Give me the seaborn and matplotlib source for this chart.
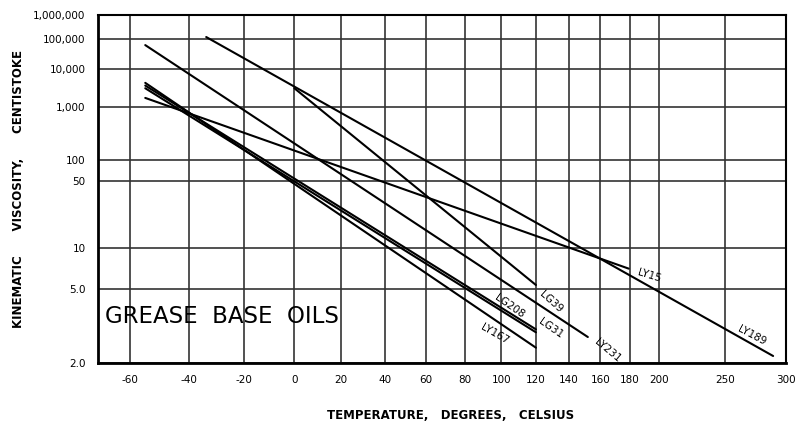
import numpy as np
import pandas as pd
import matplotlib
matplotlib.use("Agg")
import matplotlib.pyplot as plt
import seaborn as sns

# viscosity-temperature lines (ASTM chart: straight between end points)
oils = ["LY189", "LG39", "LY231", "LY15", "LY167", "LG208", "LG31"]
t_start = [-34, 0, -55, -55, -55, -55, -55]
t_end = [289, 120, 152, 179, 120, 120, 120]
v_start = [120000, 2800, 60000, 1600, 3900, 2800, 3300]
v_end = [2.15, 5.3, 2.65, 6.9, 2.35, 2.8, 2.9]

x_ticks = [-60, -40, -20, 0, 20, 40, 60, 80, 100, 120, 140, 160, 180, 200, 250, 300]
y_ticks = [2, 5, 10, 50, 100, 1000, 10000, 100000, 1000000]
y_tick_labels = ["2.0", "5.0", "10", "50", "100", "1,000", "10,000", "100,000", "1,000,000"]

df = pd.DataFrame({
    "oil": oils * 2,
    "temp": t_start + t_end,
    "visc": v_start + v_end,
})

sns.set_style("white")
plt.rcParams["font.family"] = ["DejaVu Sans"]
plt.rcParams["text.color"] = "black"
plt.rcParams["xtick.color"] = "black"
plt.rcParams["ytick.color"] = "black"
plt.rcParams["axes.labelcolor"] = "black"


def t_fwd(t):
    return np.log10(np.clip(np.asarray(t, float) + 273.15, 1e-3, None))


def t_inv(u):
    return 10 ** np.asarray(u, float) - 273.15


def v_fwd(v):
    return np.log10(np.log10(np.clip(np.asarray(v, float), 0.31, None) + 0.7))


def v_inv(f):
    return 10 ** (10 ** np.asarray(f, float)) - 0.7


fig = plt.figure(figsize=(8.02, 4.26), dpi=100)
ax = fig.add_axes([0.1222, 0.1479, 0.8578, 0.8169])
ax.set_xscale("function", functions=(t_fwd, t_inv))
ax.set_yscale("function", functions=(v_fwd, v_inv))

sns.lineplot(data=df, x="temp", y="visc", hue="oil", units="oil", estimator=None,
             palette=["black"] * len(oils), legend=False, lw=1.5, ax=ax, sort=False)

ax.set_xlim(-70, 300)
ax.set_ylim(2, 1000000)
ax.set_xticks(x_ticks)
ax.set_xticklabels([str(t) for t in x_ticks])
ax.set_yticks(y_ticks)
ax.set_yticklabels(y_tick_labels)
ax.minorticks_off()
ax.tick_params(length=0, labelsize=7.5, pad=9)
ax.grid(True, color="#333333", lw=1.2)
for side, w in [("left", 2), ("bottom", 2), ("top", 1.5), ("right", 1.5)]:
    ax.spines[side].set_linewidth(w)
    ax.spines[side].set_color("black")

ax.set_xlabel("TEMPERATURE,   DEGREES,   CELSIUS", fontsize=8.5, fontweight="bold")
ax.set_ylabel("KINEMATIC      VISCOSITY,      CENTISTOKE", fontsize=8.5, fontweight="bold")
ax.xaxis.set_label_coords(0.512, -0.132)
ax.yaxis.set_label_coords(-0.106, 0.5)

ax.text(0.01, 0.135, "GREASE  BASE  OILS", transform=ax.transAxes, fontsize=16.5,
        va="center", ha="left")

# line labels, offset from each line's end point (points)
offsets = {
    "LY189": (-15, 15, -28),
    "LY15": (15, -5, -17),
    "LG39": (11, -12, -42),
    "LG31": (11, 1, -35),
    "LY231": (14, -10, -40),
    "LG208": (-19, 19, -35),
    "LY167": (-30, 10, -30),
}
for name, te, ve in zip(oils, t_end, v_end):
    dx, dy, rot = offsets[name]
    ax.annotate(name, xy=(te, ve), xytext=(dx, dy), textcoords="offset points",
                ha="center", va="center", rotation=rot, fontsize=7.5)

fig.savefig("out.png", dpi=100)
